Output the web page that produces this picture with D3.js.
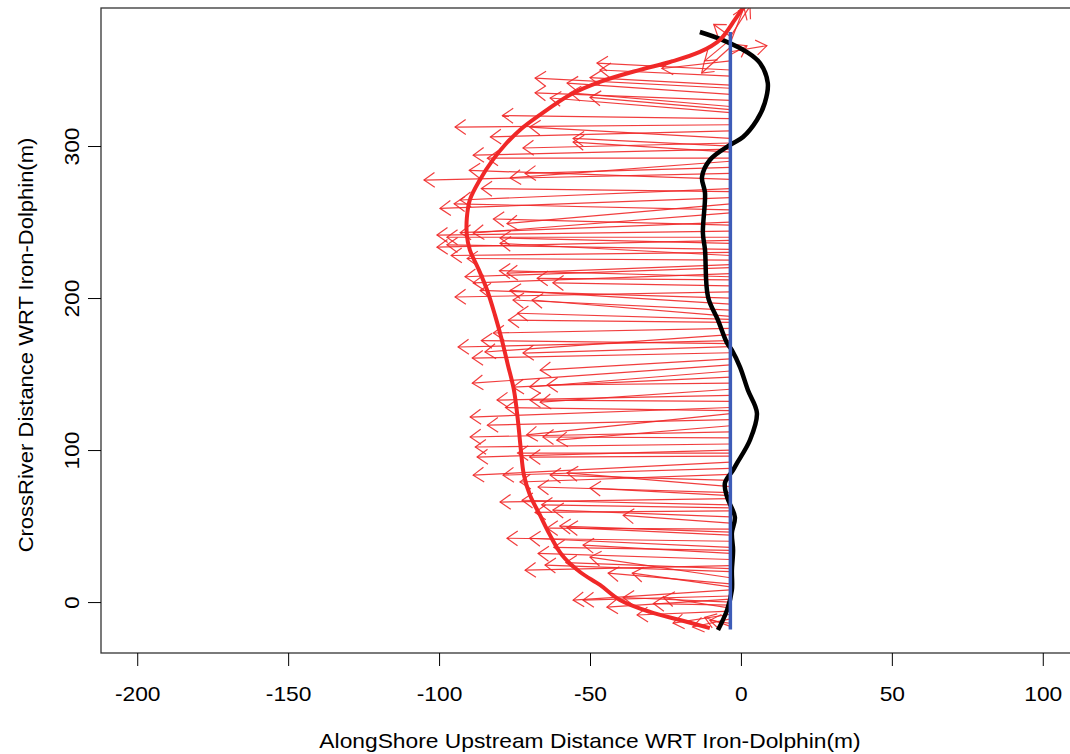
<!DOCTYPE html>
<html>
<head>
<meta charset="utf-8">
<script src="https://cdn.jsdelivr.net/npm/d3@7"></script>
<style>
  html, body { margin: 0; padding: 0; background: #fff; }
  svg { display: block; font-family: "Liberation Sans", Arial, Helvetica, sans-serif; }
</style>
</head>
<body>
<svg id="chart" width="1070" height="754"></svg>
<script>
// ---- Data ----
const xTicks = [-200, -150, -100, -50, 0, 50, 100];
const yTicks = [0, 100, 200, 300];
const xLabel = "AlongShore Upstream Distance WRT Iron-Dolphin(m)";
const yLabel = "CrossRiver Distance WRT Iron-Dolphin(m)";

// Reference (blue) line along-shore position and extent
const baseX = -3.5;
const baseYRange = [-18, 375];

// Arrows: start on base line at arrowStartY, tip at (arrowTipX, arrowTipY)
const arrowStartY = [372, 368, 362, 360, 370, 365, 372,
  356, 350, 346, 340, 338, 334, 330, 326, 322, 324, 318, 314, 305, 310, 300, 296, 302, 298, 292,
  290, 286, 282, 272, 266, 262, 244, 240, 250, 256, 236, 238, 232, 228, 225, 220, 222, 216, 212,
  208, 204, 200, 196, 192, 188, 184, 180, 172, 176, 168, 164, 160, 156, 148, 144, 152, 136, 132,
  140, 128, 120, 112, 124, 108, 116, 104, 100, 96, 92, 88, 84, 80, 76, 72, 70, 68, 64, 60, 56,
  52, 48, 44, 40, 36, 32, 28, 24, 20, 16, 12, 10, 8, 4, 2, 0, -2, -4, -6, -8, -11, -14, -16,
  278, 270, 258, 248, 230, 214, 186, 170, 126, 98, 62, 46, 34, 22];
const arrowTipX = [3, 1, 8.6, 2, -12, -13, -9,
  -26.2, -47.7, -46.7, -50, -68.2, -57.6, -68.2, -56.6, -63.2, -50, -79, -94.7, -70, -83, -55.6, -55.6, -72.2, -88.7, -84,
  -76.5, -71.5, -105, -93, -99.7, -77.5, -100.7, -97.4, -93, -88.7, -79.8, -100.7, -97.4, -79.8, -90.7, -91.4, -77.5, -88.7, -67.5,
  -62.3, -94.7, -86.4, -76.5, -75.5, -69.2, -77, -82, -93.7, -84.8, -72.2, -89, -66.5, -89, -75.5, -64.2, -70, -80.8, -69.9,
  -66.5, -89.7, -84, -89.7, -71, -65.6, -61, -88, -87.4, -70, -88.7, -78.8, -73.2, -63.2, -57.6, -67.2, -50, -79.8, -72.5, -68.2, -62.3,
  -39, -64.2, -57.6, -77.5, -70, -52.3, -67.2, -71.5, -64.9, -50, -44, -36, -55.6, -52.3, -44.4, -39, -29, -25.7, -34.4, -22.5, -16, -10.3, -12,
  -90, -86, -95, -82, -96, -80, -74, -86, -78, -74, -66, -60, -62, -58];
const arrowTipY = [392, 391, 366, 366, 356, 348, 380,
  351, 354.6, 350, 345, 344.7, 341.4, 335, 335, 331.6, 332, 320, 312.5, 312.5, 306, 305, 302.6, 298.7, 294, 292,
  279, 282, 277.6, 264.5, 259, 249, 241.4, 240, 243, 242.8, 239.5, 233.5, 235, 236, 226, 214, 216.4, 210, 213,
  210, 200.7, 205, 205, 198.7, 198.7, 185.5, 177, 167.8, 164.5, 163.8, 160.5, 152.6, 144, 141.4, 142.8, 141.5, 132.9, 132.9,
  131.5, 121.7, 116.4, 108.6, 110, 108.6, 106.5, 102, 95.4, 95.4, 83.5, 83.5, 79, 83.5, 85, 75.7, 75, 65.8, 67, 59, 60.5,
  57, 48.7, 49, 42, 42, 37.5, 32, 21, 24.3, 29.6, 19, 19, 1.3, 1.3, -3.3, 3, -1, 3, -8.5, -13.8, -16.4, -12, -10,
  284, 272, 262, 252, 228, 218, 190, 172, 128, 98, 64, 50, 36, 26];

// Smoothed envelope (thick red)
const envX = [2, -2.0, -7.0, -13.6, -23.5, -33.5, -46.7, -56.7, -66.6, -73.2, -78.2, -82.2, -86.5, -89.8, -90.8, -90.8, -89.8, -87.1, -84.1, -81.5, -79.2, -77.2, -75.2, -73.9, -72.9, -71.9, -69.9, -66.6, -63.3, -59.3, -53.3, -46.7, -40.1, -30.1, -20.2, -10.3];
const envY = [395, 383.1, 369.8, 361.9, 355.3, 350.1, 342.2, 333.6, 320.5, 310.6, 300.7, 290.9, 277.7, 264.6, 252.7, 241.5, 231.6, 219.8, 205.3, 188.9, 172.4, 156, 139.5, 119.8, 100.1, 83.6, 70.5, 57.3, 44.2, 31, 19.8, 11.3, 1.4, -6.5, -11.8, -17.1];

// Shoreline profile (thick black)
const shoreX = [-13.6, -6, 2, 6.3, 8.9, 7.9, 5.3, 0.7, -3.6, -10.3, -12.9, -11.9, -12.6, -11.9, -10.9, -7.6, -4.6, -3, -0.3, 2.3, 5.3, 3, -1.3, -2.6, -5.3, -4.6, -2, -3, -2.6, -3, -3, -4.6, -7.6];
const shoreY = [375, 369.7, 361.8, 354.6, 341.4, 328.3, 317.1, 305.9, 300.7, 290.8, 279.6, 269.1, 242.8, 231.6, 200.7, 185.5, 170.4, 165.8, 154.6, 139.5, 124.3, 106.6, 91.4, 86.8, 78.3, 69.1, 55.9, 45.4, 34.2, 21, 7.9, -5.3, -18.4];

// ---- Layout ----
const svg = d3.select("#chart");
const plotL = 101, plotT = 8, plotR = 1079, plotB = 653;
const x = d3.scaleLinear().domain([-212, 112]).range([plotL, plotR]);
const y = d3.scaleLinear().domain([-33.5, 390.8]).range([plotB, plotT]);

svg.append("defs").append("clipPath").attr("id", "clip")
  .append("rect").attr("x", plotL).attr("y", plotT).attr("width", plotR - plotL).attr("height", plotB - plotT);

const g = svg.append("g").attr("clip-path", "url(#clip)");

const red = "#F02828";

// Arrows
const arrows = arrowStartY.map((sy, i) => ({ x0: baseX, y0: sy, x1: arrowTipX[i], y1: arrowTipY[i] }));
const headLen = 13, headAng = 35 * Math.PI / 180;
const ag = g.append("g").attr("stroke", red).attr("stroke-width", 1.2).attr("fill", "none").attr("stroke-opacity", 0.9);
arrows.forEach(a => {
  const px0 = x(a.x0), py0 = y(a.y0), px1 = x(a.x1), py1 = y(a.y1);
  const ang = Math.atan2(py1 - py0, px1 - px0);
  const l1 = [px1 - headLen * Math.cos(ang - headAng), py1 - headLen * Math.sin(ang - headAng)];
  const l2 = [px1 - headLen * Math.cos(ang + headAng), py1 - headLen * Math.sin(ang + headAng)];
  ag.append("line").attr("x1", px0).attr("y1", py0).attr("x2", px1).attr("y2", py1);
  ag.append("path").attr("d", `M${l1[0]},${l1[1]}L${px1},${py1}L${l2[0]},${l2[1]}`);
});

// Black shoreline
const lineGen = d3.line().curve(d3.curveCatmullRom.alpha(0.5));
g.append("path")
  .attr("d", lineGen(shoreX.map((v, i) => [x(v), y(shoreY[i])])))
  .attr("fill", "none").attr("stroke", "#000").attr("stroke-width", 4.5).attr("stroke-linejoin", "round");

// Blue base line
g.append("line")
  .attr("x1", x(baseX)).attr("x2", x(baseX))
  .attr("y1", y(baseYRange[0])).attr("y2", y(baseYRange[1]))
  .attr("stroke", "#3D5CB8").attr("stroke-width", 3.5);

// Red envelope
g.append("path")
  .attr("d", lineGen(envX.map((v, i) => [x(v), y(envY[i])])))
  .attr("fill", "none").attr("stroke", red).attr("stroke-width", 4).attr("stroke-linejoin", "round");

// Box
svg.append("rect").attr("x", plotL).attr("y", plotT).attr("width", plotR - plotL).attr("height", plotB - plotT)
  .attr("fill", "none").attr("stroke", "#333").attr("stroke-width", 1.3);

// Axes
const fs = 20, sx = 1.14;
const fmt = d => String(d);
const xAxis = svg.append("g").attr("transform", `translate(0,${plotB})`)
  .call(d3.axisBottom(x).tickValues(xTicks).tickSize(13).tickPadding(21).tickFormat(fmt));
xAxis.select(".domain").remove();
xAxis.selectAll("text").attr("font-size", fs).attr("fill", "#000")
  .attr("transform", `scale(${sx},1)`)
  .style("font-family", "Liberation Sans, Arial, sans-serif");
xAxis.selectAll("line").attr("stroke", "#000");

const yAxis = svg.append("g").attr("transform", `translate(${plotL},0)`)
  .call(d3.axisLeft(y).tickValues(yTicks).tickSize(13).tickFormat(fmt));
yAxis.select(".domain").remove();
yAxis.selectAll("line").attr("stroke", "#000");
yAxis.selectAll("text")
  .attr("x", null).attr("dy", null)
  .attr("text-anchor", "middle")
  .attr("transform", `translate(-22,0) rotate(-90) scale(${sx},1)`)
  .attr("font-size", fs).attr("fill", "#000")
  .style("font-family", "Liberation Sans, Arial, sans-serif");

// Titles
svg.append("text").attr("transform", `translate(${(plotL + plotR) / 2},748) scale(${sx},1)`)
  .attr("text-anchor", "middle").attr("font-size", fs).attr("fill", "#000").text(xLabel);
svg.append("text").attr("transform", `translate(33,345) rotate(-90) scale(1.1,1)`)
  .attr("text-anchor", "middle").attr("font-size", fs).attr("fill", "#000").text(yLabel);
</script>
</body>
</html>
